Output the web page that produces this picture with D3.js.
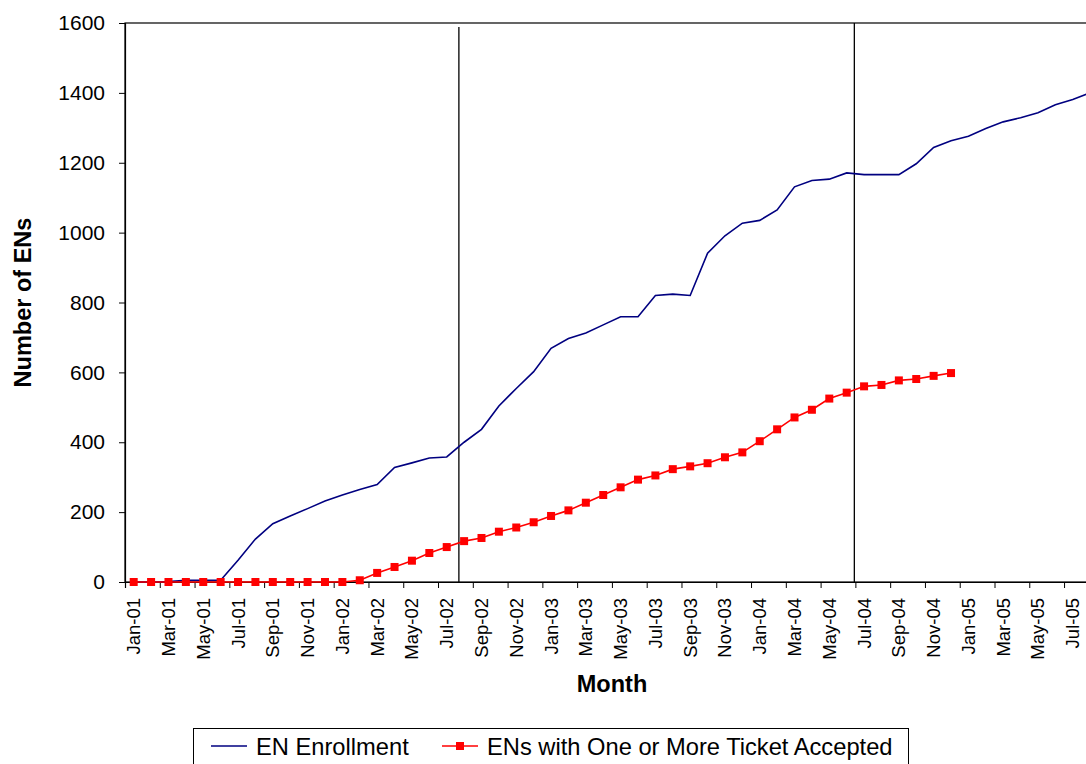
<!DOCTYPE html>
<html>
<head>
<meta charset="utf-8">
<script src="https://cdnjs.cloudflare.com/ajax/libs/d3/7.8.5/d3.min.js"></script>
<style>
  body { margin: 0; background: #fff; }
  svg { display: block; font-family: "Liberation Sans", Arial, sans-serif; }
</style>
</head>
<body>
<div id="container"></div>
<script>
/* DATA */
const months = [
  "Jan-01","Feb-01","Mar-01","Apr-01","May-01","Jun-01","Jul-01","Aug-01","Sep-01","Oct-01","Nov-01","Dec-01",
  "Jan-02","Feb-02","Mar-02","Apr-02","May-02","Jun-02","Jul-02","Aug-02","Sep-02","Oct-02","Nov-02","Dec-02",
  "Jan-03","Feb-03","Mar-03","Apr-03","May-03","Jun-03","Jul-03","Aug-03","Sep-03","Oct-03","Nov-03","Dec-03",
  "Jan-04","Feb-04","Mar-04","Apr-04","May-04","Jun-04","Jul-04","Aug-04","Sep-04","Oct-04","Nov-04","Dec-04",
  "Jan-05","Feb-05","Mar-05","Apr-05","May-05","Jun-05","Jul-05","Aug-05"
];

// EN Enrollment (blue line)
const enrollment = [
  0, 0, 1, 5, 5, 5, 62, 123, 167, 189, 210, 232,
  249, 265, 279, 328, 341, 355, 358, 400, 437, 504, 554, 602,
  669, 697, 713, 736, 759, 759, 820, 824, 820, 941, 991, 1027,
  1035, 1065, 1131, 1149, 1153, 1171, 1166, 1166, 1166, 1197, 1244, 1263,
  1276, 1298, 1317, 1329, 1343, 1366, 1381, 1400
];

// ENs with One or More Ticket Accepted (red line, ends Dec-04)
const ticketAccepted = [
  0, 0, 0, 0, 0, 0, 0, 0, 0, 0, 0, 0,
  0, 5, 26, 43, 61, 83, 100, 117, 126, 144, 156, 171,
  189, 205, 227, 249, 271, 293, 305, 323, 331, 340, 357, 371,
  403, 437, 471, 493, 525, 542, 560, 564, 577, 581, 590, 598
];

// vertical marker lines, as fractional month positions
const markerMonths = [18.7, 41.44];

const yTicks = [0, 200, 400, 600, 800, 1000, 1200, 1400, 1600];
const seriesNames = ["EN Enrollment", "ENs with One or More Ticket Accepted"];

/* CONSTANTS */
const width = 1086, height = 764;
const plot = { left: 125, top: 23, bottom: 582, band: 17.39 };
plot.right = plot.left + months.length * plot.band;

const blue = "#000080", red = "#ff0000";

const svg = d3.select("#container")
  .append("svg")
  .attr("width", width)
  .attr("height", height);

// + SCALES
const xScale = d3.scaleBand()
  .domain(months)
  .range([plot.left, plot.right]);

// index scale for boundaries / markers
const xIndex = d3.scaleLinear()
  .domain([0, months.length])
  .range([plot.left, plot.right]);

const yScale = d3.scaleLinear()
  .domain([0, 1600])
  .range([plot.bottom, plot.top]);

// plot area border (top/left visible; right is off the page)
svg.append("rect")
  .attr("x", plot.left)
  .attr("y", plot.top)
  .attr("width", plot.right - plot.left)
  .attr("height", plot.bottom - plot.top)
  .attr("fill", "none")
  .attr("stroke", "#000")
  .attr("stroke-width", 1.2);

// + AXES
const yAxis = d3.axisLeft(yScale)
  .tickValues(yTicks)
  .tickFormat(d3.format("d"))
  .tickSize(6)
  .tickPadding(14);

const yAxisGroup = svg.append("g")
  .attr("transform", `translate(${plot.left},0)`)
  .call(yAxis);
yAxisGroup.select(".domain").attr("stroke", "#000").attr("stroke-width", 1.2);
yAxisGroup.selectAll("text").attr("font-size", 21).attr("fill", "#000").attr("font-family", null);

// tick marks at band boundaries every 2 months
const boundaryAxis = d3.axisBottom(xIndex)
  .tickValues(d3.range(0, months.length + 1, 2))
  .tickSize(6)
  .tickFormat("");
const bGroup = svg.append("g")
  .attr("transform", `translate(0,${plot.bottom})`)
  .call(boundaryAxis);
bGroup.select(".domain").attr("stroke", "#000").attr("stroke-width", 1.2);

// labels every other month
const xAxis = d3.axisBottom(xScale)
  .tickValues(months.filter((d, i) => i % 2 === 0))
  .tickSize(0);
const xAxisGroup = svg.append("g")
  .attr("transform", `translate(0,${plot.bottom})`)
  .call(xAxis);
xAxisGroup.select(".domain").remove();
xAxisGroup.selectAll("text")
  .attr("font-family", null)
  .attr("font-size", 18.5)
  .attr("fill", "#000")
  .attr("text-anchor", "end")
  .attr("transform", "rotate(-90)")
  .attr("x", -16)
  .attr("y", 0)
  .attr("dy", "0.35em");

// axis titles
svg.append("text")
  .attr("transform", `translate(31,${(plot.top + plot.bottom) / 2}) rotate(-90)`)
  .attr("text-anchor", "middle")
  .attr("font-size", 23.5)
  .attr("font-weight", "bold")
  .text("Number of ENs");

svg.append("text")
  .attr("x", 612)
  .attr("y", 692)
  .attr("text-anchor", "middle")
  .attr("font-size", 23.5)
  .attr("font-weight", "bold")
  .text("Month");

// vertical marker lines
svg.selectAll(".marker")
  .data(markerMonths)
  .join("line")
  .attr("class", "marker")
  .attr("x1", d => xIndex(d + 0.5))
  .attr("x2", d => xIndex(d + 0.5))
  .attr("y1", (d, i) => i === 0 ? plot.top + 4 : plot.top)
  .attr("y2", plot.bottom)
  .attr("stroke", "#000")
  .attr("stroke-width", 1.3);

// + LINES
const lineGen = d3.line()
  .x((d, i) => xScale(months[i]) + xScale.bandwidth() / 2)
  .y(d => yScale(d));

svg.append("path")
  .datum(enrollment)
  .attr("fill", "none")
  .attr("stroke", blue)
  .attr("stroke-width", 1.6)
  .attr("d", lineGen);

svg.append("path")
  .datum(ticketAccepted)
  .attr("fill", "none")
  .attr("stroke", red)
  .attr("stroke-width", 1.6)
  .attr("d", lineGen);

svg.selectAll(".pt")
  .data(ticketAccepted)
  .join("rect")
  .attr("class", "pt")
  .attr("x", (d, i) => xScale(months[i]) + xScale.bandwidth() / 2 - 4)
  .attr("y", d => yScale(d) - 4)
  .attr("width", 8)
  .attr("height", 8)
  .attr("fill", red);

// + LEGEND
const legend = svg.append("g");
legend.append("rect")
  .attr("x", 193.5)
  .attr("y", 728.5)
  .attr("width", 715)
  .attr("height", 50)
  .attr("fill", "#fff")
  .attr("stroke", "#000")
  .attr("stroke-width", 1);

const legendItems = [
  { name: seriesNames[0], color: blue, x: 211, marker: false },
  { name: seriesNames[1], color: red, x: 442, marker: true }
];

const li = legend.selectAll(".li")
  .data(legendItems)
  .join("g")
  .attr("class", "li")
  .attr("transform", d => `translate(${d.x},746)`);

li.append("line")
  .attr("x1", 0).attr("x2", 36)
  .attr("stroke", d => d.color)
  .attr("stroke-width", 1.6);

li.filter(d => d.marker)
  .append("rect")
  .attr("x", 14).attr("y", -4)
  .attr("width", 8).attr("height", 8)
  .attr("fill", d => d.color);

li.append("text")
  .attr("x", 45)
  .attr("y", 9)
  .attr("font-size", 23.7)
  .attr("fill", "#000")
  .text(d => d.name);
</script>
</body>
</html>
